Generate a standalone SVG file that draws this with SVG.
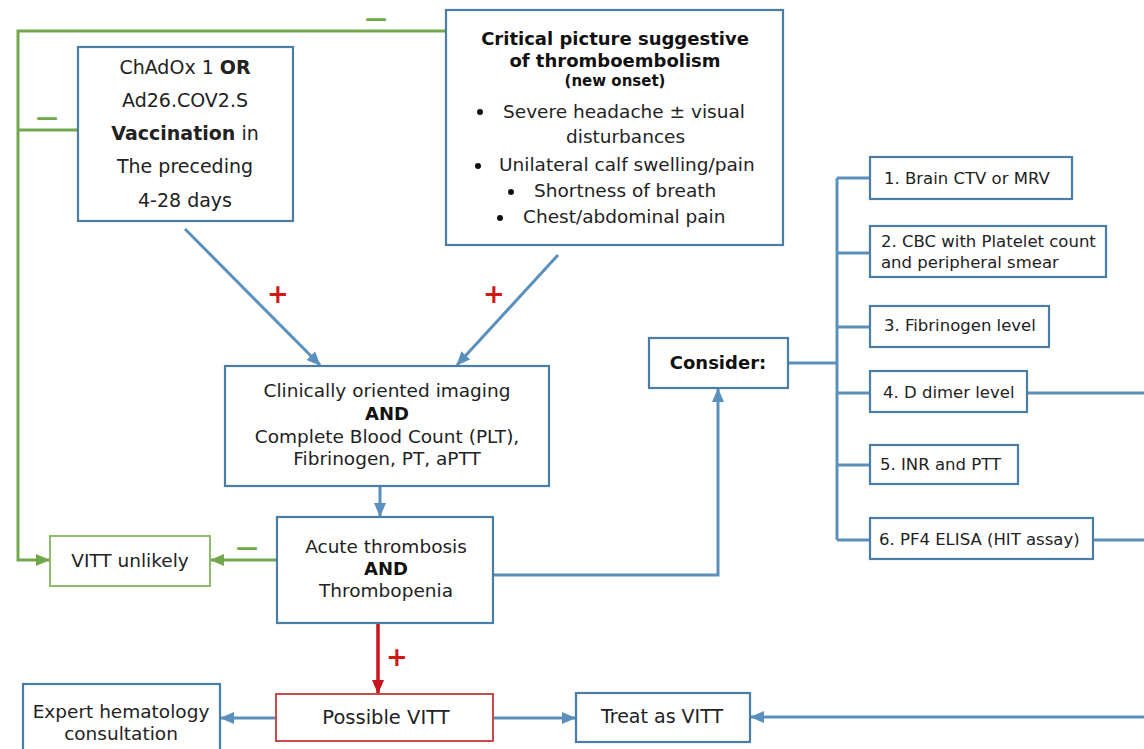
<svg xmlns="http://www.w3.org/2000/svg" width="1144" height="749" viewBox="0 0 1144 749">
<defs>
<style>
.box{fill:#fff;stroke:#4a7ea6;stroke-width:2.2}
.gbox{fill:#fff;stroke:#8dbb6a;stroke-width:2}
.rbox{fill:#fff;stroke:#c94a4a;stroke-width:2}
.t{font-family:"DejaVu Sans",sans-serif;font-size:18.5px;fill:#222}
.tb{font-family:"DejaVu Sans",sans-serif;font-size:18px;font-weight:bold;fill:#111}
.ts{font-family:"DejaVu Sans",sans-serif;font-size:16.5px;fill:#222}
.c{text-anchor:middle}
.bl{stroke:#5b90bd;stroke-width:3;fill:none}
.gr{stroke:#72a84c;stroke-width:3;fill:none}
.rd{stroke:#c8141c;stroke-width:3.5;fill:none}
.minus{font-family:"DejaVu Sans",sans-serif;font-size:22px;font-weight:bold;fill:#72a84c;text-anchor:middle}
.plus{font-family:"DejaVu Sans",sans-serif;font-size:26px;font-weight:bold;fill:#d01818;text-anchor:middle}
</style>
<marker id="ab" markerUnits="userSpaceOnUse" markerWidth="14" markerHeight="12" refX="13" refY="6" orient="auto"><path d="M0,0 L14,6 L0,12 z" fill="#5b90bd"/></marker>
<marker id="ag" markerUnits="userSpaceOnUse" markerWidth="14" markerHeight="12" refX="13" refY="6" orient="auto"><path d="M0,0 L14,6 L0,12 z" fill="#72a84c"/></marker>
<marker id="ar" markerUnits="userSpaceOnUse" markerWidth="14" markerHeight="12" refX="13" refY="6" orient="auto"><path d="M0,0 L14,6 L0,12 z" fill="#c8141c"/></marker>
</defs>
<rect width="1144" height="749" fill="#fff"/>

<g id="connectors">
<path class="gr" d="M447,31 H18 V560 H49" marker-end="url(#ag)"/>
<path class="gr" d="M78,130 H18"/>
<path class="gr" d="M277,560 H211" marker-end="url(#ag)"/>
<path class="bl" d="M185,229 L320,365" marker-end="url(#ab)"/>
<path class="bl" d="M558,255 L457,365" marker-end="url(#ab)"/>
<path class="bl" d="M380,486 V516" marker-end="url(#ab)"/>
<path class="bl" d="M493,575 H718 V389" marker-end="url(#ab)"/>
<path class="bl" d="M788,363 H837"/>
<path class="bl" d="M837,178 V540"/>
<path class="bl" d="M837,178 H870 M837,253 H870 M837,327 H870 M837,393 H870 M837,465 H870 M837,540 H870"/>
<path class="bl" d="M1027,393 H1146 M1093,540 H1146"/>
<path class="bl" d="M1146,717 H751" marker-end="url(#ab)"/>
<path class="rd" d="M378,623 V693" marker-end="url(#ar)"/>
<path class="bl" d="M276,718 H221" marker-end="url(#ab)"/>
<path class="bl" d="M493,718 H575" marker-end="url(#ab)"/>
<text class="minus" x="376" y="26">—</text>
<text class="minus" x="47" y="125">—</text>
<text class="minus" x="247" y="555">—</text>
<text class="plus" x="278" y="303">+</text>
<text class="plus" x="494" y="303">+</text>
<text class="plus" x="397" y="666">+</text>
</g>

<g id="vaccination">
<rect class="box" x="78" y="47" width="215" height="174"/>
<text class="t c" x="185" y="74" style="font-size:19px">ChAdOx 1 <tspan font-weight="bold">OR</tspan></text>
<text class="t c" x="185" y="107" style="font-size:19px">Ad26.COV2.S</text>
<text class="t c" x="185" y="140" style="font-size:19px"><tspan font-weight="bold">Vaccination</tspan> in</text>
<text class="t c" x="185" y="173" style="font-size:19px">The preceding</text>
<text class="t c" x="185" y="207" style="font-size:19px">4-28 days</text>
</g>

<g id="critical">
<rect class="box" x="446" y="10" width="337" height="235"/>
<text class="tb c" x="615" y="45">Critical picture suggestive</text>
<text class="tb c" x="615" y="67">of thromboembolism</text>
<text class="tb c" x="615" y="86" style="font-size:15px">(new onset)</text>
<circle cx="480" cy="112" r="3" fill="#111"/>
<text class="t" x="503" y="118">Severe headache ± visual</text>
<text class="t" x="566" y="143">disturbances</text>
<circle cx="478" cy="166" r="3" fill="#111"/>
<text class="t" x="499" y="171">Unilateral calf swelling/pain</text>
<circle cx="511" cy="192" r="3" fill="#111"/>
<text class="t" x="534" y="197">Shortness of breath</text>
<circle cx="500" cy="218" r="3" fill="#111"/>
<text class="t" x="523" y="223">Chest/abdominal pain</text>
</g>

<g id="clinical">
<rect class="box" x="225" y="366" width="324" height="120"/>
<text class="t c" x="387" y="397">Clinically oriented imaging</text>
<text class="tb c" x="387" y="420">AND</text>
<text class="t c" x="387" y="443">Complete Blood Count (PLT),</text>
<text class="t c" x="387" y="465">Fibrinogen, PT, aPTT</text>
</g>

<g id="acute">
<rect class="box" x="277" y="517" width="216" height="106"/>
<text class="t c" x="386" y="553">Acute thrombosis</text>
<text class="tb c" x="386" y="575">AND</text>
<text class="t c" x="386" y="597">Thrombopenia</text>
</g>

<g id="vitt-unlikely">
<rect class="gbox" x="50" y="536" width="160" height="50"/>
<text class="t c" x="130" y="567">VITT unlikely</text>
</g>

<g id="consider">
<rect class="box" x="649" y="338" width="139" height="50"/>
<text class="tb c" x="718" y="369">Consider:</text>
</g>

<g id="test1">
<rect class="box" x="870" y="157" width="202" height="42"/>
<text class="ts" x="884" y="184">1. Brain CTV or MRV</text>
</g>
<g id="test2">
<rect class="box" x="870" y="226" width="236" height="51"/>
<text class="ts" x="881" y="247">2. CBC with Platelet count</text>
<text class="ts" x="881" y="268">and peripheral smear</text>
</g>
<g id="test3">
<rect class="box" x="870" y="306" width="179" height="41"/>
<text class="ts" x="884" y="331">3. Fibrinogen level</text>
</g>
<g id="test4">
<rect class="box" x="870" y="371" width="157" height="41"/>
<text class="ts" x="883" y="398">4. D dimer level</text>
</g>
<g id="test5">
<rect class="box" x="870" y="445" width="148" height="39"/>
<text class="ts" x="880" y="470">5. INR and PTT</text>
</g>
<g id="test6">
<rect class="box" x="870" y="518" width="223" height="41"/>
<text class="ts" x="879" y="545">6. PF4 ELISA (HIT assay)</text>
</g>

<g id="possible-vitt">
<rect class="rbox" x="276" y="694" width="217" height="47"/>
<text class="t c" x="386" y="724" style="font-size:19.5px">Possible VITT</text>
</g>

<g id="expert">
<rect class="box" x="23" y="684" width="197" height="70"/>
<text class="t c" x="121" y="718">Expert hematology</text>
<text class="t c" x="121" y="740">consultation</text>
</g>

<g id="treat">
<rect class="box" x="576" y="693" width="174" height="49"/>
<text class="t c" x="662" y="723" style="font-size:19px">Treat as VITT</text>
</g>
</svg>
